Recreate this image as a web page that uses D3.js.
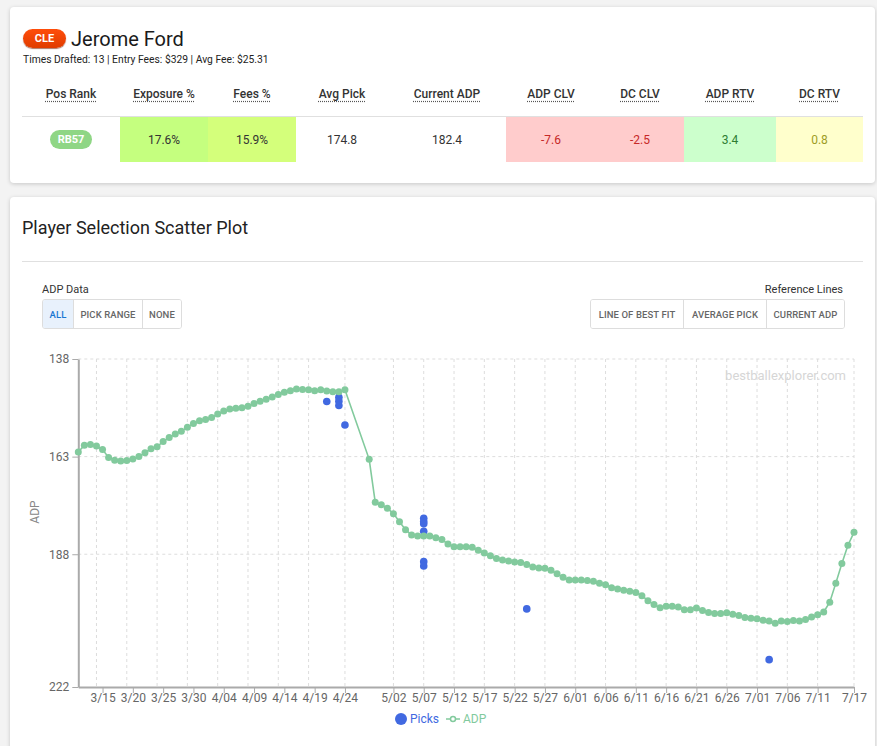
<!DOCTYPE html>
<html><head><meta charset="utf-8">
<script src="https://cdn.jsdelivr.net/npm/d3@7"></script>
<style>
body{margin:0;background:#f3f3f3;font-family:Roboto,"Noto Sans",sans-serif;width:877px;height:746px;overflow:hidden;position:relative;color:#222}
.card{position:absolute;background:#fff;border-radius:4px;box-shadow:0 1px 4px rgba(0,0,0,0.18)}
.abs{position:absolute;white-space:nowrap}
.hdr{font-size:12px;font-weight:500;color:#333;text-decoration:underline dotted #555;text-underline-offset:3px}
.btn{position:absolute;top:0;height:28px;display:flex;align-items:center;justify-content:center;font-size:9.5px;font-weight:500;color:#666;letter-spacing:0.1px;box-sizing:border-box}
svg{position:absolute;left:0;top:0}
</style></head><body>
<script>
// ---------- data ----------
const team = "CLE";
const playerName = "Jerome Ford";
const summaryItems = ["Times Drafted: 13", "Entry Fees: $329", "Avg Fee: $25.31"];
const columns = ["Pos Rank", "Exposure %", "Fees %", "Avg Pick", "Current ADP", "ADP CLV", "DC CLV", "ADP RTV", "DC RTV"];
const rowValues = ["RB57", "17.6%", "15.9%", "174.8", "182.4", "-7.6", "-2.5", "3.4", "0.8"];
const chartTitle = "Player Selection Scatter Plot";
const adpButtons = ["ALL", "PICK RANGE", "NONE"];
const refButtons = ["LINE OF BEST FIT", "AVERAGE PICK", "CURRENT ADP"];

// daily ADP from 3/11 to 7/17 (null = no data that day)
const adpStart = "2024-03-11";
const adpValues = [
  161.8,160.1,159.9,160.3,161.2,163.2,163.9,164.1,164.0,163.6,163.0,162.0,161.0,160.5,159.1,158.1,157.2,156.5,155.5,154.5,153.8,
  153.5,153.0,152.1,151.3,150.8,150.6,150.5,150.1,149.4,148.8,148.3,147.7,147.1,146.5,146.1,145.7,145.8,145.9,146.1,145.9,146.2,146.4,146.4,145.9,
  null,null,null,163.7,174.7,175.3,
  176.2,177.6,179.7,181.7,183.1,183.3,183.3,183.3,183.8,184.2,185.4,186.1,186.1,186.1,186.2,187.0,187.7,188.4,189.1,189.5,189.7,190.0,190.1,190.6,191.3,191.5,191.6,192.1,193.0,193.9,194.6,
  194.6,194.6,194.7,194.9,195.4,195.8,196.6,196.9,197.2,197.5,197.8,198.6,199.9,200.9,201.7,201.3,201.3,201.5,202.2,202.2,201.8,202.4,202.9,203.2,203.2,203.0,203.4,203.7,204.2,204.4,
  204.5,204.9,205.1,205.7,205.1,205.2,205.0,205.1,204.7,204.1,203.5,202.8,200.3,195.4,190.4,185.7,182.4
];
const pickDates = ["2024-04-21","2024-04-23","2024-04-23","2024-04-23","2024-04-24",
  "2024-05-07","2024-05-07","2024-05-07","2024-05-07","2024-05-07","2024-05-07","2024-05-24","2024-07-03"];
const pickValues = [148.9,147.8,148.8,149.9,154.9,178.8,179.6,180.2,182.1,189.9,191.0,202.0,215.0];

const xTickDates = ["2024-03-15","2024-03-20","2024-03-25","2024-03-30","2024-04-04","2024-04-09","2024-04-14","2024-04-19","2024-04-24",
  "2024-05-02","2024-05-07","2024-05-12","2024-05-17","2024-05-22","2024-05-27","2024-06-01","2024-06-06","2024-06-11","2024-06-16",
  "2024-06-21","2024-06-26","2024-07-01","2024-07-06","2024-07-11","2024-07-17"];
const xTickLabels = ["3/15","3/20","3/25","3/30","4/04","4/09","4/14","4/19","4/24","5/02","5/07","5/12","5/17","5/22","5/27",
  "6/01","6/06","6/11","6/16","6/21","6/26","7/01","7/06","7/11","7/17"];
const gridDates = ["2024-03-14","2024-03-19","2024-03-24","2024-03-29","2024-04-03","2024-04-08","2024-04-13","2024-04-18","2024-04-24",
  "2024-05-02","2024-05-07","2024-05-12","2024-05-17","2024-05-22","2024-05-27","2024-06-01","2024-06-06","2024-06-11","2024-06-16",
  "2024-06-21","2024-06-26","2024-07-01","2024-07-06","2024-07-11","2024-07-17"];
const yTicks = [138, 163, 188, 222];
const yDomain = [138, 222];
const xDomain = ["2024-03-11", "2024-07-17"];

// ---------- styles ----------
const colEdges = [22,120,208,296,388,506,596,684,776,863];
const cellBg = [null,"#c5ff7f","#d4ff7b",null,null,"#ffcccc","#ffcccc","#ccffcc","#ffffcc"];
const cellColor = ["#fff","#333","#333","#333","#333","#c62828","#c62828","#2e7d32","#9e9d24"];
const adpBtnW = [30,69,39];
const refBtnW = [92,83,78];
const pickColor = "#4169e1", adpColor = "#82ca9d";

const body = d3.select("body");
const parse = d3.utcParse("%Y-%m-%d");

// ---------- card 1 ----------
body.append("div").attr("class","card").style("left","10px").style("top","7px").style("width","865px").style("height","176px");
body.append("div").attr("class","abs").text(team)
  .style("left","23px").style("top","29px").style("width","43px").style("height","19px").style("border-radius","10px")
  .style("background","linear-gradient(#ff4d0a,#e03c00)").style("box-shadow","0 1px 1px rgba(120,30,0,0.6)")
  .style("color","#fff").style("font-weight","700").style("font-size","11px").style("line-height","19px").style("text-align","center");
body.append("div").attr("class","abs").text(playerName)
  .style("left","71px").style("top","27px").style("font-size","20px").style("line-height","24px").style("color","#1a1a1a");
body.append("div").attr("class","abs").text(summaryItems.join(" |  "))
  .style("left","23px").style("top","53px").style("font-size","10.3px").style("line-height","13px").style("color","#222");

columns.forEach((c,i)=>{
  const l = colEdges[i], w = colEdges[i+1]-colEdges[i];
  body.append("div").attr("class","abs").style("left",l+"px").style("top","83px").style("width",w+"px").style("text-align","center")
    .append("span").attr("class","hdr").text(c);
  if (cellBg[i]) body.append("div").attr("class","abs").style("left",l+"px").style("top","117px").style("width",w+"px").style("height","45px").style("background",cellBg[i]);
  if (i===0) {
    body.append("div").attr("class","abs").text(rowValues[i])
      .style("left",(l+w/2-21)+"px").style("top","130px").style("width","42px").style("height","19px").style("border-radius","10px")
      .style("background","#8fd685").style("color","#fff").style("font-weight","700").style("font-size","11px").style("line-height","19px").style("text-align","center");
  } else {
    body.append("div").attr("class","abs").text(rowValues[i])
      .style("left",l+"px").style("top","132px").style("width",w+"px").style("text-align","center")
      .style("font-size","12px").style("line-height","16px").style("color",cellColor[i]);
  }
});
body.append("div").attr("class","abs").style("left","22px").style("top","116px").style("width","841px").style("height","1px").style("background","#e0e0e0");

// ---------- card 2 ----------
body.append("div").attr("class","card").style("left","10px").style("top","197px").style("width","865px").style("height","570px");
body.append("div").attr("class","abs").text(chartTitle)
  .style("left","22px").style("top","217px").style("font-size","18px").style("line-height","22px").style("color","#222");
body.append("div").attr("class","abs").style("left","22px").style("top","261px").style("width","841px").style("height","1px").style("background","#e0e0e0");
body.append("div").attr("class","abs").text("ADP Data").style("left","42px").style("top","283px").style("font-size","11px").style("color","#333");
body.append("div").attr("class","abs").text("Reference Lines").style("right","34px").style("top","283px").style("font-size","11px").style("color","#333");

function btnGroup(labels, widths, left, selected){
  const g = body.append("div").attr("class","abs").style("left",left+"px").style("top","299px")
    .style("width",d3.sum(widths)+"px").style("height","28px").style("border","1px solid #ddd").style("border-radius","3px").style("overflow","hidden");
  let x = 0;
  labels.forEach((t,i)=>{
    g.append("div").attr("class","btn").text(t).style("left",x+"px").style("width",widths[i]+"px")
      .style("border-left", i? "1px solid #ddd":"none")
      .style("background", i===selected? "#e8f1fc":"#fff").style("color", i===selected? "#1976d2":"#666");
    x += widths[i];
  });
}
btnGroup(adpButtons, adpBtnW, 42, 0);
btnGroup(refButtons, refBtnW, 590, -1);

// ---------- chart ----------
const svg = body.append("svg").attr("width",877).attr("height",746);
const x = d3.scaleUtc().domain(xDomain.map(parse)).range([78.3, 854]);
const y = d3.scaleLinear().domain(yDomain).range([359, 687]);

const adpData = adpValues.map((v,i)=>({d:d3.utcDay.offset(parse(adpStart),i), v})).filter(p=>p.v!==null);
const picks = pickDates.map((d,i)=>({d:parse(d), v:pickValues[i]}));

// grid
const grid = svg.append("g").attr("stroke","#ddd").attr("stroke-dasharray","3 3");
grid.selectAll(".h").data(yTicks.filter(t=>t<yDomain[1])).join("line")
  .attr("x1",x.range()[0]).attr("x2",x.range()[1]).attr("y1",d=>y(d)).attr("y2",d=>y(d));
grid.selectAll(".v").data(gridDates.map(parse)).join("line")
  .attr("x1",d=>x(d)).attr("x2",d=>x(d)).attr("y1",y.range()[0]).attr("y2",y.range()[1]);

// watermark
svg.append("text").attr("x",846).attr("y",380).attr("text-anchor","end").attr("font-size",13).attr("fill","#d6d6d6").text("bestballexplorer.com");

// axes
const xAxis = svg.append("g").attr("transform",`translate(0,${y.range()[1]})`)
  .call(d3.axisBottom(x).tickValues(xTickDates.map(parse)).tickFormat((d,i)=>xTickLabels[i]).tickSize(6).tickSizeOuter(0));
const yAxis = svg.append("g").attr("transform",`translate(${x.range()[0]},0)`)
  .call(d3.axisLeft(y).tickValues(yTicks).tickSize(6).tickSizeOuter(0));
[xAxis,yAxis].forEach(a=>{
  a.select(".domain").attr("stroke","#aaa").attr("stroke-width",2);
  a.selectAll(".tick line").attr("stroke","#aaa");
  a.selectAll(".tick text").attr("fill","#666").attr("font-size",12).attr("font-family","Roboto");
});
xAxis.selectAll(".tick text").attr("y",6).attr("dy","0.71em");
svg.append("text").attr("transform","translate(39,512) rotate(-90)").attr("text-anchor","middle")
  .attr("font-size",12).attr("fill","#888").text("ADP");

// picks
svg.append("g").selectAll("circle").data(picks).join("circle")
  .attr("cx",d=>x(d.d)).attr("cy",d=>y(d.v)).attr("r",3.8).attr("fill",pickColor);

// ADP line
svg.append("path").datum(adpData).attr("fill","none").attr("stroke",adpColor).attr("stroke-width",1.6)
  .attr("d", d3.line().x(d=>x(d.d)).y(d=>y(d.v)));
svg.append("g").selectAll("circle").data(adpData).join("circle")
  .attr("cx",d=>x(d.d)).attr("cy",d=>y(d.v)).attr("r",3.5).attr("fill",adpColor);

// legend
const lg = svg.append("g").attr("font-size",12);
lg.append("circle").attr("cx",401).attr("cy",719).attr("r",6).attr("fill",pickColor);
lg.append("text").attr("x",410).attr("y",723).attr("fill",pickColor).text("Picks");
lg.append("line").attr("x1",446).attr("x2",460).attr("y1",719).attr("y2",719).attr("stroke",adpColor).attr("stroke-width",1.5);
lg.append("circle").attr("cx",453).attr("cy",719).attr("r",2.5).attr("fill","#fff").attr("stroke",adpColor).attr("stroke-width",1.5);
lg.append("text").attr("x",463).attr("y",723).attr("fill",adpColor).text("ADP");
</script>
</body></html>
